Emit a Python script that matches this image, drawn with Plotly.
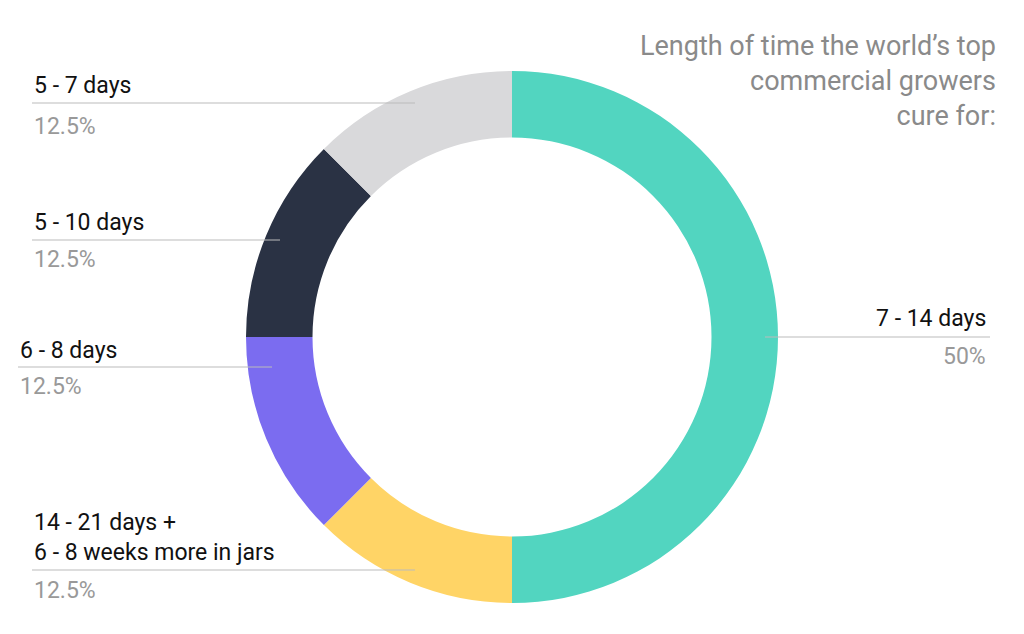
import plotly.graph_objects as go

W, H = 1024, 634

labels = ["7 - 14 days", "14 - 21 days +<br>6 - 8 weeks more in jars", "6 - 8 days", "5 - 10 days", "5 - 7 days"]
values = [50, 12.5, 12.5, 12.5, 12.5]
pct_text = ["50%", "12.5%", "12.5%", "12.5%", "12.5%"]
colors = ["#52D5C0", "#FFD466", "#7B6CF0", "#2A3244", "#D9D9DB"]

# page renders with ~8px offset; compensate
OFF = 8

def px(x):
    return (x - OFF) / W

def py(y):
    return 1 - (y - OFF) / H

fig = go.Figure(go.Pie(
    labels=labels, values=values, sort=False, direction="clockwise", rotation=0,
    hole=0.75, marker=dict(colors=colors, line=dict(width=0)),
    textinfo="none", showlegend=False,
    domain=dict(x=[px(246), px(778)], y=[py(603), py(71)])
))

# label placements: (label y, pct y, line y, line x0, line x1, text x, anchor)
place = [
    (318, 356, 337, 765, 990, 988, "right"),
    (537, 590, 570, 32, 415, 32, "left"),
    (350, 386, 367, 18, 272, 18, "left"),
    (222, 259, 240, 32, 280, 32, "left"),
    (85, 127, 103, 32, 415, 32, "left"),
]

for lab, pct, (ly, pyy, liney, x0, x1, tx, anc) in zip(labels, pct_text, place):
    fig.add_shape(type="line", xref="paper", yref="paper",
                  x0=px(x0), x1=px(x1), y0=py(liney), y1=py(liney),
                  line=dict(color="#BBBBBB", width=1), layer="above")
    fig.add_annotation(x=px(tx), y=py(ly), xref="paper", yref="paper", text=lab,
                       showarrow=False, xanchor=anc, yanchor="middle", align="left",
                       font=dict(size=23, color="#111111"))
    fig.add_annotation(x=px(tx), y=py(pyy), xref="paper", yref="paper", text=pct,
                       showarrow=False, xanchor=anc, yanchor="middle",
                       font=dict(size=23, color="#999999"))

fig.add_annotation(x=px(998), y=py(28), xref="paper", yref="paper",
                   text="Length of time the world’s top<br>commercial growers<br>cure for:",
                   showarrow=False, xanchor="right", yanchor="top", align="right",
                   font=dict(size=27, color="#8A8A8A"))

fig.update_layout(width=W, height=H, margin=dict(l=0, r=0, t=0, b=0),
                  paper_bgcolor="white", font=dict(family="Roboto"))
fig.write_html("out.html")
